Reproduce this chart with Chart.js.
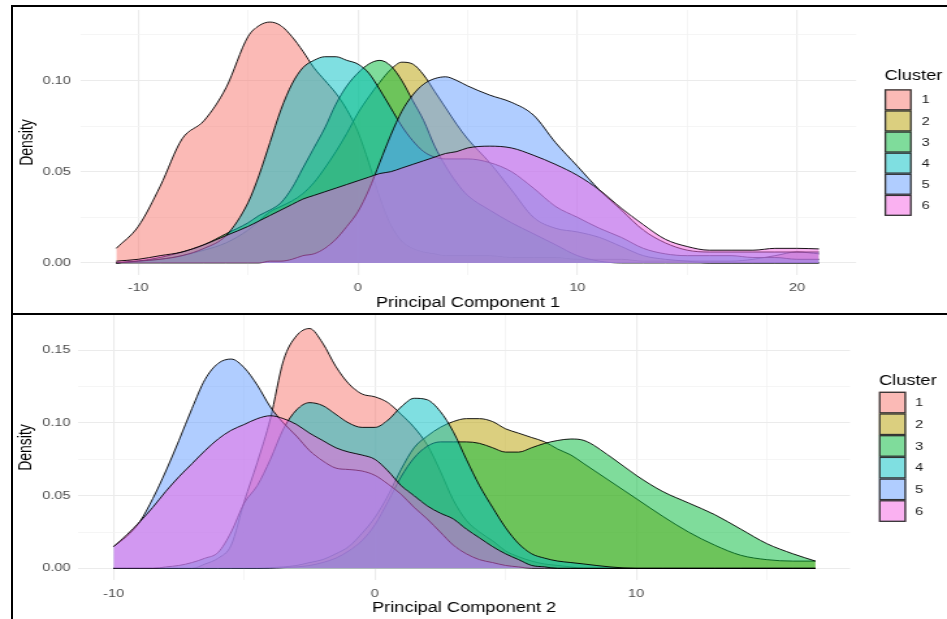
<!DOCTYPE html>
<html>
<head>
<meta charset="utf-8">
<script src="https://cdn.jsdelivr.net/npm/chart.js@4.4.1/dist/chart.umd.min.js"></script>
<style>
  html, body { margin: 0; padding: 0; background: #fff; }
  body { width: 947px; height: 619px; overflow: hidden; position: relative; }
  canvas { position: absolute; left: 0; }
  .frame { position: absolute; border: 2px solid #000; box-sizing: border-box; pointer-events: none; }
</style>
</head>
<body>
<!-- the reference is stretched sideways, so the canvas is drawn narrow and widened by CSS -->
<canvas id="pc1" width="728" height="313" style="top:0;width:947px;height:313px"></canvas>
<canvas id="pc2" width="728" height="306" style="top:313px;width:947px;height:306px"></canvas>
<div class="frame" style="left:11px;top:5px;width:960px;height:310px"></div>
<div class="frame" style="left:11px;top:313px;width:960px;height:330px"></div>
<script>
const clusterLabels = ['1', '2', '3', '4', '5', '6'];
const clusterColors = ['#F8766D', '#B79F00', '#00BA38', '#00BFC4', '#619CFF', '#F564E3'];

// Principal Component 1 - density per cluster
const pc1X = [-11, -10, -9, -8, -7, -6, -5,
  -4.5, -4, -3.5, -3, -2.5, -2, -1.5, -1, -0.5, 0, 0.5, 1, 1.5, 2, 2.5, 3, 3.5, 4, 4.5, 5,
  6, 7, 8, 9, 10, 11, 12, 13, 14, 15, 16, 17, 18, 19, 20, 21];
const pc1Cluster1 = [.008, .020, .042, .068, .078, .096, .124,
  .130, .132, .130, .124, .116, .107, .100, .093, .084, .072, .055, .036, .021, .012, .008, .006, .005, .004, .004, .004,
  .004, .003, .003, .003, .002, .002, .002, .001, .001, .001, .001, .001, .002, .004, .006, .005];
const pc1Cluster2 = [0, .001, .002, .004, .007, .011, .018,
  .023, .028, .031, .034, .038, .044, .052, .061, .071, .082, .091, .099, .106, .110, .109, .103, .094, .085, .076, .068,
  .055, .040, .025, .019, .017, .014, .009, .004, .002, .001, 0, 0, 0, 0, 0, 0];
const pc1Cluster3 = [0, .001, .003, .006, .010, .016, .022,
  .026, .029, .033, .041, .052, .063, .074, .087, .097, .104, .109, .111, .108, .100, .089, .078, .064, .053, .044, .037,
  .029, .022, .016, .010, .004, .001, 0, 0, 0, 0, 0, 0, 0, 0, 0, 0];
const pc1Cluster4 = [0, .001, .002, .004, .008, .015, .033,
  .048, .066, .084, .098, .107, .111, .113, .113, .111, .109, .104, .095, .085, .075, .067, .061, .058, .057, .057, .057,
  .055, .050, .041, .031, .025, .019, .014, .008, .005, .004, .004, .004, .003, .003, .002, .002];
const pc1Cluster5 = [0, 0, 0, 0, 0, 0, 0,
  0, .001, .001, .002, .004, .005, .008, .013, .020, .028, .040, .055, .070, .083, .092, .098, .101, .102, .100, .097,
  .092, .088, .081, .066, .053, .040, .029, .018, .011, .007, .006, .006, .006, .006, .006, .006];
const pc1Cluster6 = [.001, .002, .004, .006, .010, .015, .020,
  .023, .026, .029, .032, .035, .037, .039, .041, .043, .045, .047, .049, .050, .052, .054, .056, .058, .060, .061, .063,
  .064, .063, .059, .054, .048, .040, .030, .021, .013, .009, .007, .007, .007, .008, .008, .0077];

// Principal Component 2 - density per cluster
const pc2X = [-10, -9.5, -9, -8.5, -8, -7.5, -7, -6.5, -6, -5.5,
  -5, -4.5, -4, -3.5, -3, -2.5, -2, -1.5, -1, -0.5,
  0, 0.5, 1, 1.5, 2, 2.5, 3, 3.5, 4, 4.5,
  5, 5.5, 6, 6.5, 7, 7.5, 8,
  9, 10, 11, 12, 13, 14, 15, 16, 16.86];
const pc2Cluster1 = [0, 0, 0, 0, 0, 0, 0, .003, .007, .016,
  .046, .073, .103, .143, .160, .165, .155, .139, .127, .120,
  .118, .114, .106, .097, .085, .067, .047, .033, .025, .019,
  .012, .008, .005, .003, .002, .001, 0,
  0, 0, 0, 0, 0, 0, 0, 0, 0];
const pc2Cluster2 = [0, 0, 0, 0, 0, 0, 0, 0, 0, 0,
  0, 0, .0005, .001, .002, .004, .006, .010, .015, .024,
  .035, .050, .068, .083, .091, .097, .101, .103, .103, .101,
  .096, .093, .090, .087, .082, .078, .072,
  .060, .048, .036, .025, .016, .009, .006, .005, .005];
const pc2Cluster3 = [0, 0, 0, 0, 0, 0, 0, 0, 0, 0,
  0, 0, 0, .0005, .001, .002, .004, .007, .012, .019,
  .030, .046, .063, .076, .084, .087, .087, .087, .086, .083,
  .080, .080, .083, .086, .088, .089, .088,
  .077, .064, .053, .045, .037, .027, .017, .010, .005];
const pc2Cluster4 = [0, 0, 0, 0, .001, .002, .004, .007, .011, .025,
  .045, .057, .075, .096, .109, .114, .112, .106, .100, .097,
  .097, .102, .111, .117, .116, .108, .094, .075, .057, .042,
  .028, .017, .010, .007, .005, .004, .003,
  .001, 0, 0, 0, 0, 0, 0, 0, 0];
const pc2Cluster5 = [.015, .022, .032, .048, .067, .088, .110, .130, .141, .144,
  .138, .126, .111, .100, .091, .081, .074, .069, .068, .067,
  .064, .058, .051, .042, .034, .025, .016, .010, .006, .004,
  .002, .001, 0, 0, 0, 0, 0,
  0, 0, 0, 0, 0, 0, 0, 0, 0];
const pc2Cluster6 = [.015, .023, .032, .042, .053, .063, .072, .081, .089, .095,
  .099, .103, .105, .103, .099, .093, .088, .083, .080, .078,
  .075, .067, .057, .050, .043, .038, .034, .027, .021, .015,
  .010, .006, .002, .001, 0, 0, 0,
  0, 0, 0, 0, 0, 0, 0, 0, 0];

// axis breaks (major get labels, minor only a fainter grid line)
const pc1XMajor = [-10, 0, 10, 20];
const pc1XMinor = [-5, 5, 15];
const pc1YMajor = [0, 0.05, 0.10];
const pc1YMinor = [0.025, 0.075, 0.125];
const pc2XMajor = [-10, 0, 10];
const pc2XMinor = [-5, 5, 15];
const pc2YMajor = [0, 0.05, 0.10, 0.15];
const pc2YMinor = [0.025, 0.075, 0.125];

const FONT = '"Liberation Sans", Arial, sans-serif';

function hexToRgba(hex, a) {
  const r = parseInt(hex.slice(1, 3), 16);
  const g = parseInt(hex.slice(3, 5), 16);
  const b = parseInt(hex.slice(5, 7), 16);
  return `rgba(${r}, ${g}, ${b}, ${a})`;
}

function isIn(list, v) {
  return list.some(m => Math.abs(m - v) < 1e-9);
}

// ggplot style legend: title + stacked square keys
const clusterLegend = {
  id: 'clusterLegend',
  afterDraw(chart, args, opts) {
    const ctx = chart.ctx;
    ctx.save();
    ctx.textBaseline = 'middle';
    ctx.textAlign = 'left';
    ctx.fillStyle = '#000';
    ctx.font = `14px ${FONT}`;
    ctx.fillText('Cluster', opts.x, opts.titleY);
    ctx.font = `11.2px ${FONT}`;
    clusterLabels.forEach((lab, i) => {
      const y = opts.keyTop + i * opts.keyH;
      ctx.fillStyle = hexToRgba(clusterColors[i], 0.5);
      ctx.fillRect(opts.x, y, opts.keyW, opts.keyH);
      ctx.strokeStyle = '#333';
      ctx.lineWidth = 1.3;
      ctx.strokeRect(opts.x + 0.6, y + 0.6, opts.keyW - 1.2, opts.keyH - 1.2);
      ctx.fillStyle = '#1A1A1A';
      ctx.fillText(lab, opts.labelX, y + opts.keyH / 2 + 0.5);
    });
    ctx.restore();
  }
};

function makeChart(id, cfg) {
  const datasets = cfg.series.map((ys, i) => ({
    label: clusterLabels[i],
    data: cfg.xs.map((x, j) => ({ x: x, y: ys[j] })),
    backgroundColor: hexToRgba(clusterColors[i], 0.5),
    borderColor: 'rgba(0, 0, 0, 0.9)',
    borderWidth: 1,
    fill: 'origin',
    pointRadius: 0,
    cubicInterpolationMode: 'monotone',
    order: cfg.series.length - i
  }));

  const xTicks = cfg.xMajor.concat(cfg.xMinor).sort((a, b) => a - b);
  const yTicks = cfg.yMajor.concat(cfg.yMinor).sort((a, b) => a - b);

  const noPad = s => { s.paddingTop = 0; s.paddingBottom = 0; s.paddingLeft = 0; s.paddingRight = 0; };

  return new Chart(document.getElementById(id), {
    type: 'line',
    data: { datasets: datasets },
    plugins: [clusterLegend],
    options: {
      responsive: false,
      animation: false,
      events: [],
      layout: { padding: { left: 0, right: cfg.padRight, top: cfg.padTop, bottom: 0 } },
      scales: {
        x: {
          type: 'linear',
          min: cfg.xMin,
          max: cfg.xMax,
          afterBuildTicks: s => { s.ticks = xTicks.map(v => ({ value: v })); },
          afterFit: s => { s.height = cfg.xAxisH; noPad(s); },
          border: { display: false },
          grid: {
            drawTicks: false,
            color: c => isIn(cfg.xMajor, c.tick.value) ? '#EBEBEB' : '#F2F2F2',
            lineWidth: c => isIn(cfg.xMajor, c.tick.value) ? 1.1 : 0.8
          },
          ticks: {
            autoSkip: false,
            maxRotation: 0,
            padding: cfg.xTickPad,
            color: '#4D4D4D',
            font: { family: FONT, size: 11.2 },
            callback: v => isIn(cfg.xMajor, v) ? String(v) : ''
          },
          title: {
            display: true,
            text: cfg.xTitle,
            color: '#000',
            font: { family: FONT, size: 14 },
            padding: { top: 0, bottom: cfg.xTitlePad }
          }
        },
        y: {
          type: 'linear',
          min: cfg.yMin,
          max: cfg.yMax,
          afterBuildTicks: s => { s.ticks = yTicks.map(v => ({ value: v })); },
          afterFit: s => { s.width = cfg.yAxisW; noPad(s); },
          border: { display: false },
          grid: {
            drawTicks: false,
            color: c => isIn(cfg.yMajor, c.tick.value) ? '#EBEBEB' : '#F2F2F2',
            lineWidth: c => isIn(cfg.yMajor, c.tick.value) ? 1.1 : 0.8
          },
          ticks: {
            autoSkip: false,
            padding: cfg.yTickPad,
            color: '#4D4D4D',
            font: { family: FONT, size: 11.2 },
            callback: v => isIn(cfg.yMajor, v) ? v.toFixed(2) : ''
          },
          title: {
            display: true,
            text: 'Density',
            color: '#000',
            font: { family: FONT, size: 14 },
            padding: { top: cfg.yTitlePad, bottom: 0 }
          }
        }
      },
      plugins: {
        legend: { display: false },
        tooltip: { enabled: false },
        clusterLegend: cfg.legend
      }
    }
  });
}

makeChart('pc1', {
  xs: pc1X,
  series: [pc1Cluster1, pc1Cluster2, pc1Cluster3, pc1Cluster4, pc1Cluster5, pc1Cluster6],
  xTitle: 'Principal Component 1',
  xMin: -12.65, xMax: 22.69, yMin: -0.0066, yMax: 0.1386,
  xMajor: pc1XMajor, xMinor: pc1XMinor, yMajor: pc1YMajor, yMinor: pc1YMinor,
  padTop: 10, padRight: 69.9, yAxisW: 61.5, xAxisH: 38,
  xTickPad: 6, yTickPad: 7, xTitlePad: 1, yTitlePad: 13,
  legend: { x: 680, titleY: 76, keyTop: 89.3, keyH: 21.1, keyW: 20.8, labelX: 708.6 }
});

makeChart('pc2', {
  xs: pc2X,
  series: [pc2Cluster1, pc2Cluster2, pc2Cluster3, pc2Cluster4, pc2Cluster5, pc2Cluster6],
  xTitle: 'Principal Component 2',
  xMin: -11.35, xMax: 18.18, yMin: -0.008, yMax: 0.1743,
  xMajor: pc2XMajor, xMinor: pc2XMinor, yMajor: pc2YMajor, yMinor: pc2YMinor,
  padTop: 2, padRight: 74.6, yAxisW: 60.2, xAxisH: 39,
  xTickPad: 7, yTickPad: 6, xTitlePad: 2, yTitlePad: 12,
  legend: { x: 675.7, titleY: 67.7, keyTop: 78.7, keyH: 21.7, keyW: 20.8, labelX: 703.4 }
});
</script>
</body>
</html>
